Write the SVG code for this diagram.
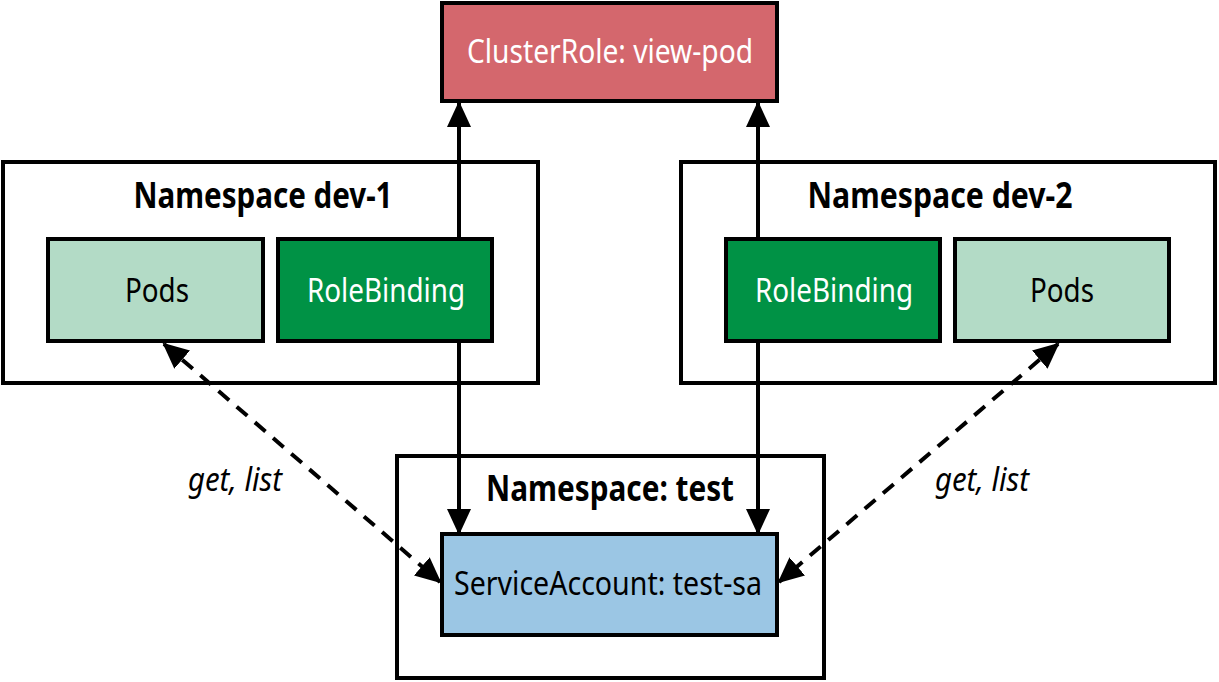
<svg xmlns="http://www.w3.org/2000/svg" width="1219" height="682" viewBox="0 0 1219 682">
<style>
.box{stroke:#000;stroke-width:4}
.ns{fill:#fff;stroke:#000;stroke-width:4}
.t{font-family:"Noto Sans","Open Sans",sans-serif;font-size:33px;text-anchor:middle}
.b{font-family:"Noto Sans","Open Sans",sans-serif;font-size:35px;font-weight:bold;text-anchor:middle;fill:#000}
.i{font-family:"Noto Sans","Open Sans",sans-serif;font-size:33px;font-style:italic;text-anchor:middle;fill:#000}
.w{fill:#fff}
.k{fill:#000}
.solid{stroke:#000;stroke-width:4;fill:none}
.dash{stroke:#000;stroke-width:4;fill:none;stroke-dasharray:14 10}
</style>
<defs>
<marker id="ah" markerUnits="userSpaceOnUse" markerWidth="26" markerHeight="24" refX="24" refY="12" orient="auto-start-reverse" viewBox="0 0 26 24">
<path d="M0,0 L26,12 L0,24 Z" fill="#000"/>
</marker>
</defs>
<rect width="1219" height="682" fill="#fff"/>
<g id="ns-dev1"><rect class="ns" x="3" y="162" width="535" height="221"/><text class="b" x="263" y="208" textLength="259" lengthAdjust="spacingAndGlyphs">Namespace dev-1</text></g>
<g id="ns-dev2"><rect class="ns" x="681" y="162" width="534" height="221"/><text class="b" x="940" y="208" textLength="265" lengthAdjust="spacingAndGlyphs">Namespace dev-2</text></g>
<g id="ns-test"><rect class="ns" x="397" y="456" width="427" height="222"/><text class="b" x="610" y="501" textLength="248" lengthAdjust="spacingAndGlyphs">Namespace: test</text></g>
<g id="connectors">
<line class="solid" x1="459" y1="238" x2="459" y2="103" marker-end="url(#ah)"/>
<line class="solid" x1="459" y1="341" x2="459" y2="533" marker-end="url(#ah)"/>
<line class="solid" x1="758" y1="238" x2="758" y2="103" marker-end="url(#ah)"/>
<line class="solid" x1="758" y1="341" x2="758" y2="533" marker-end="url(#ah)"/>
<line class="dash" x1="164" y1="344" x2="440" y2="582" marker-start="url(#ah)" marker-end="url(#ah)"/>
<line class="dash" x1="1058" y1="344" x2="779" y2="582" marker-start="url(#ah)" marker-end="url(#ah)"/>
</g>
<g id="clusterrole"><rect class="box" x="442" y="3" width="335" height="98" fill="#d4676d"/><text class="t w" x="610" y="63" textLength="286" lengthAdjust="spacingAndGlyphs">ClusterRole: view-pod</text></g>
<g id="pods-dev1"><rect class="box" x="48" y="239" width="215" height="102" fill="#b3dbc6"/><text class="t k" x="157" y="302" textLength="64" lengthAdjust="spacingAndGlyphs">Pods</text></g>
<g id="rb-dev1"><rect class="box" x="278" y="239" width="214" height="102" fill="#009245"/><text class="t w" x="386" y="302" textLength="158" lengthAdjust="spacingAndGlyphs">RoleBinding</text></g>
<g id="rb-dev2"><rect class="box" x="726" y="239" width="214" height="102" fill="#009245"/><text class="t w" x="834" y="302" textLength="158" lengthAdjust="spacingAndGlyphs">RoleBinding</text></g>
<g id="pods-dev2"><rect class="box" x="955" y="239" width="214" height="102" fill="#b3dbc6"/><text class="t k" x="1062" y="302" textLength="64" lengthAdjust="spacingAndGlyphs">Pods</text></g>
<g id="sa"><rect class="box" x="442" y="534" width="335" height="101" fill="#9bc6e4"/><text class="t k" x="608" y="595" textLength="308" lengthAdjust="spacingAndGlyphs">ServiceAccount: test-sa</text></g>
<g id="label-left"><text class="i" x="235" y="491" textLength="94" lengthAdjust="spacingAndGlyphs">get, list</text></g>
<g id="label-right"><text class="i" x="982" y="491" textLength="94" lengthAdjust="spacingAndGlyphs">get, list</text></g>
</svg>
